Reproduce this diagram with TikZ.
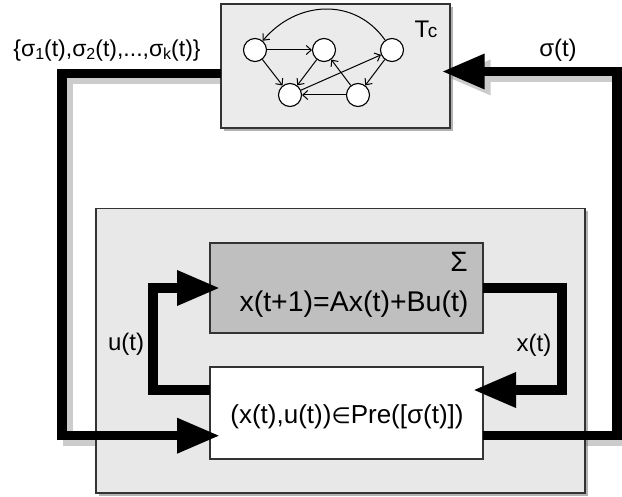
\documentclass[tikz,border=0pt]{standalone}
\usepackage{fontspec}
\setmainfont{Liberation Sans}
\newfontfamily\symfont[Scale=0.85]{DejaVu Sans}
\usetikzlibrary{arrows.meta,shadows}
\pgfdeclarelayer{bg}
\pgfsetlayers{bg,main}

% small lowered index used in the set of modes
\newcommand{\idx}[1]{\raisebox{-3pt}{\fontsize{16}{16}\selectfont #1}}

\begin{document}
\begin{tikzpicture}[x=1pt,y=-1pt,
  box/.style={draw=black!80, line width=1.3pt, rectangle, inner sep=0pt, outer sep=0pt},
  boxshadow/.style={drop shadow={shadow xshift=3pt, shadow yshift=-3pt, fill=black!55, opacity=0.55}},
  flow/.style={line width=9.5pt, line join=miter, line cap=butt,
    -{Triangle[length=43pt,width=33pt]}},
  flowshadow/.style={flow, draw=black!20,
    transform canvas={xshift=6pt,yshift=-6pt}},
  state/.style={circle, draw=black, fill=white, line width=1.1pt, minimum size=23pt, inner sep=0pt},
  trans/.style={line width=1pt, -{Straight Barb[length=5pt,width=9pt]}},
  lbl/.style={font=\fontsize{24}{24}\selectfont, inner sep=0pt, anchor=base},
]
\useasboundingbox (0,0) rectangle (622,497);

% ---- boxes ----
\node[box, boxshadow, fill=black!8, minimum width=229pt, minimum height=124pt] (tc) at (335.5,66) {};
\node[box, boxshadow, fill=black!9, minimum width=489pt, minimum height=284.5pt] (outer) at (340.5,350.75) {};
\node[box, fill=black!25, minimum width=273pt, minimum height=90pt] (sys) at (346.5,288) {};
\node[box, fill=white, minimum width=273pt, minimum height=92pt] (pre) at (346.5,413) {};

% ---- corner points of the thick connectors ----
\coordinate (lt) at (62,73.5);
\coordinate (lb) at (62,435.7);
\coordinate (rb) at (617,435.7);
\coordinate (rt) at (617,71.5);
\coordinate (xt) at (562,288);
\coordinate (xb) at (562,390);
\coordinate (ub) at (153,390);
\coordinate (ut) at (153,288);

% ---- page background and connector shadows ----
\begin{pgfonlayer}{bg}
\fill[white] (0,0) rectangle (622,497);
\draw[flowshadow, shorten >=-10pt] ([yshift=-7.5pt]tc.west) -- (lt) -- (lb) -- ([yshift=-22.7pt]pre.west);
\draw[flowshadow, shorten >=-8.3pt] ([yshift=-22.7pt]pre.east) -- (rb) -- (rt) -- ([yshift=-5.5pt]tc.east);
\draw[flowshadow, shorten >=-10pt] (sys.east) -- (xt) -- (xb) -- ([yshift=23pt]pre.east);
\draw[flowshadow, shorten >=-10pt] ([yshift=23pt]pre.west) -- (ub) -- (ut) -- (sys.west);
\end{pgfonlayer}

% ---- thick connectors ----
\draw[flow, shorten >=-10pt] ([yshift=-7.5pt]tc.west) -- (lt) -- (lb) -- ([yshift=-22.7pt]pre.west);
\draw[flow, shorten >=-8.3pt] ([yshift=-22.7pt]pre.east) -- (rb) -- (rt) -- ([yshift=-5.5pt]tc.east);
\draw[flow, shorten >=-10pt] (sys.east) -- (xt) -- (xb) -- ([yshift=23pt]pre.east);
\draw[flow, shorten >=-10pt] ([yshift=23pt]pre.west) -- (ub) -- (ut) -- (sys.west);

% ---- transition graph ----
\node[state] (q1) at (255,50) {};
\node[state] (q2) at (324,50) {};
\node[state] (q3) at (392,50) {};
\node[state] (q4) at (290,95) {};
\node[state] (q5) at (358,95) {};
\draw[trans] (q3) to[out=125, in=50, looseness=1.1] (q1);
\draw[trans] (q1) -- (q2);
\draw[trans] (q1) -- (q4);
\draw[trans] (q2) -- (q4);
\draw[trans] (q4) -- (q3);
\draw[trans] (q5) -- (q2);
\draw[trans] (q5) -- (q4);
\draw[trans] (q3) -- (q5);

% ---- labels ----
\node[lbl, anchor=base] (tcl) at (426,38) {T\kern-1.5pt{\fontsize{19}{19}\selectfont c}};
\node[lbl, font=\fontsize{28}{28}\selectfont] (sysl) at (459,272) {Σ};
\node[lbl, font=\fontsize{28.5}{28.5}\selectfont] (dyn) at (354,312) {x(t+1)=Ax(t)+Bu(t)};
\node[lbl, font=\fontsize{26}{26}\selectfont] (cons) at (347,423.5) {(x(t),u(t)){\symfont ∈}Pre([σ(t)])};
\node[lbl] (sig) at (558,57) {σ(t)};
\node[lbl, font=\fontsize{23}{23}\selectfont] (modes) at (107,57) {\{σ\idx{1}(t),σ\idx{2}(t),...,σ\idx{k}(t)\}};
\node[lbl] (xl) at (534,352) {x(t)};
\node[lbl] (ul) at (126,351) {u(t)};
\end{tikzpicture}
\end{document}
